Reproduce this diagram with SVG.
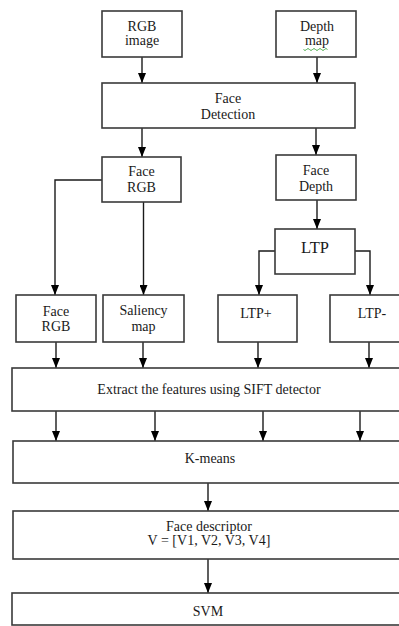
<svg xmlns="http://www.w3.org/2000/svg" width="399" height="626" viewBox="0 0 399 626">
<defs>
<style>
.box{fill:#fff;stroke:#3a3a3a;stroke-width:1.6}
.t{font-family:"Liberation Serif","Times New Roman",serif;font-size:14px;fill:#1a1a1a;text-anchor:middle}
.big{font-size:16.5px}
.c{fill:none;stroke:#1a1a1a;stroke-width:1.4}
</style>
<marker id="ah" viewBox="0 0 10 8" refX="10" refY="4" markerWidth="11" markerHeight="8" markerUnits="userSpaceOnUse" orient="auto">
<path d="M0,0 L10,4 L0,8 z" fill="#000"/>
</marker>
</defs>
<rect width="399" height="626" fill="#fff"/>
<g id="connectors">
<path class="c" d="M142,57 V83" marker-end="url(#ah)"/>
<path class="c" d="M317,57 V83" marker-end="url(#ah)"/>
<path class="c" d="M142,128 V157" marker-end="url(#ah)"/>
<path class="c" d="M316,128 V155" marker-end="url(#ah)"/>
<path class="c" d="M317,200 V229" marker-end="url(#ah)"/>
<path class="c" d="M102,180 H55 V295" marker-end="url(#ah)"/>
<path class="c" d="M143.5,202 V295" marker-end="url(#ah)"/>
<path class="c" d="M275,251 H259 V295" marker-end="url(#ah)"/>
<path class="c" d="M355,251 H370 V295" marker-end="url(#ah)"/>
<path class="c" d="M56,342 V368" marker-end="url(#ah)"/>
<path class="c" d="M143,342 V368" marker-end="url(#ah)"/>
<path class="c" d="M258,342 V368" marker-end="url(#ah)"/>
<path class="c" d="M369,342 V368" marker-end="url(#ah)"/>
<path class="c" d="M56,411 V441" marker-end="url(#ah)"/>
<path class="c" d="M155,411 V441" marker-end="url(#ah)"/>
<path class="c" d="M263,411 V441" marker-end="url(#ah)"/>
<path class="c" d="M360,411 V441" marker-end="url(#ah)"/>
<path class="c" d="M208,483 V511" marker-end="url(#ah)"/>
<path class="c" d="M208,559 V593" marker-end="url(#ah)"/>
</g>
<g id="rgb-image">
<rect class="box" x="102" y="11" width="80" height="46"/>
<text class="t" x="142" y="30.5">RGB</text>
<text class="t" x="142" y="45">image</text>
</g>
<g id="depth-map">
<rect class="box" x="276" y="11" width="80" height="46"/>
<text class="t" x="317" y="30.5">Depth</text>
<text class="t" x="317" y="45">map</text>
<path d="M303.5,49.5 q1.5,2 3,0 t3,0 t3,0 t3,0 t3,0 t3,0 t3,0 t3,0" fill="none" stroke="#3aa33a" stroke-width="0.9"/>
</g>
<g id="face-detection">
<rect class="box" x="102" y="83" width="253" height="45"/>
<text class="t" x="228" y="103">Face</text>
<text class="t" x="228" y="119">Detection</text>
</g>
<g id="face-rgb-top">
<rect class="box" x="102" y="157" width="79" height="45"/>
<text class="t" x="141.5" y="176">Face</text>
<text class="t" x="141.5" y="191.5">RGB</text>
</g>
<g id="face-depth">
<rect class="box" x="276" y="155" width="80" height="45"/>
<text class="t" x="316" y="175">Face</text>
<text class="t" x="316" y="190.5">Depth</text>
</g>
<g id="ltp">
<rect class="box" x="275" y="229" width="80" height="45"/>
<text class="t big" x="315" y="253">LTP</text>
</g>
<g id="face-rgb">
<rect class="box" x="16" y="295" width="80" height="47"/>
<text class="t" x="56" y="315.5">Face</text>
<text class="t" x="56" y="330.5">RGB</text>
</g>
<g id="saliency-map">
<rect class="box" x="103" y="295" width="81" height="47"/>
<text class="t" x="143.5" y="315">Saliency</text>
<text class="t" x="143.5" y="330.5">map</text>
</g>
<g id="ltp-plus">
<rect class="box" x="218" y="295" width="79" height="47"/>
<text class="t" x="256" y="317.5">LTP+</text>
</g>
<g id="ltp-minus">
<rect class="box" x="330" y="295" width="80" height="47"/>
<text class="t" x="372" y="317.5">LTP-</text>
</g>
<g id="sift">
<rect class="box" x="12" y="368" width="400" height="43"/>
<text class="t" x="209" y="394">Extract the features using SIFT detector</text>
</g>
<g id="kmeans">
<rect class="box" x="13" y="441" width="400" height="42"/>
<text class="t" x="210" y="463">K-means</text>
</g>
<g id="face-descriptor">
<rect class="box" x="13" y="511" width="400" height="48"/>
<text class="t" x="209" y="531">Face descriptor</text>
<text class="t" x="209" y="544.5">V = [V1, V2, V3, V4]</text>
</g>
<g id="svm">
<rect class="box" x="12" y="593" width="400" height="32"/>
<text class="t" x="208" y="616">SVM</text>
</g>
</svg>
